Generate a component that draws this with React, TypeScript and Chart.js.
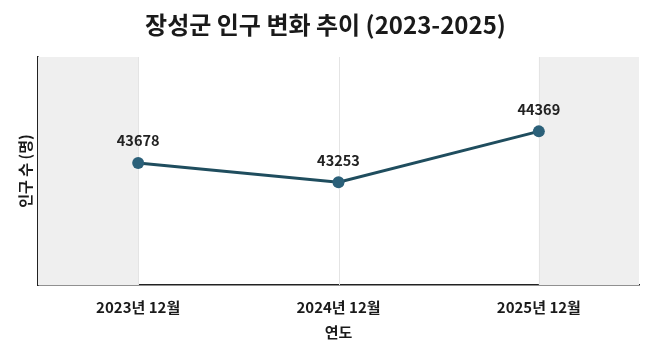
import React, { useEffect, useRef } from "react";
import { Chart, registerables } from "chart.js";

Chart.register(...registerables);

const categories = ["2023년 12월", "2024년 12월", "2025년 12월"];
const population = [43678, 43253, 44369];
const chartTitle = "장성군 인구 변화 추이 (2023-2025)";
const xTitle = "연도";
const yTitle = "인구 수 (명)";

const FONT = "'Noto Sans CJK KR', 'Noto Sans', sans-serif";

const shadePlugin = {
  id: "shade",
  beforeDatasetsDraw(chart: any) {
    const { ctx, chartArea, scales } = chart;
    const x = scales.x;
    const first = x.getPixelForValue(0);
    const last = x.getPixelForValue(categories.length - 1);
    ctx.save();
    ctx.fillStyle = "#efefef";
    ctx.fillRect(chartArea.left, chartArea.top, first - chartArea.left, chartArea.bottom - chartArea.top);
    ctx.fillRect(last, chartArea.top, chartArea.right - last, chartArea.bottom - chartArea.top);
    ctx.strokeStyle = "#e4e4e4";
    ctx.lineWidth = 1;
    for (let i = 0; i < categories.length; i++) {
      const px = Math.round(x.getPixelForValue(i)) + 0.5;
      ctx.beginPath();
      ctx.moveTo(px, chartArea.top);
      ctx.lineTo(px, chartArea.bottom);
      ctx.stroke();
    }
    ctx.restore();
  },
};

const labelPlugin = {
  id: "valueLabels",
  afterDatasetsDraw(chart: any) {
    const { ctx } = chart;
    const meta = chart.getDatasetMeta(0);
    ctx.save();
    ctx.font = `bold 14.5px ${FONT}`;
    ctx.fillStyle = "#222222";
    ctx.textAlign = "center";
    ctx.textBaseline = "middle";
    meta.data.forEach((pt: any, i: number) => {
      ctx.fillText(String(population[i]), pt.x, pt.y - 22);
    });
    ctx.restore();
  },
};

export default function App() {
  const ref = useRef<HTMLCanvasElement | null>(null);
  useEffect(() => {
    document.body.style.margin = "0";
    if (!ref.current) return;
    const chart = new Chart(ref.current, {
      type: "line",
      data: {
        labels: categories,
        datasets: [
          {
            data: population,
            borderColor: "#1f4d5e",
            borderWidth: 3,
            pointRadius: 6,
            pointHoverRadius: 6,
            pointBackgroundColor: "#2b6079",
            pointBorderColor: "#2b6079",
            pointBorderWidth: 0,
            tension: 0,
          },
        ],
      },
      options: {
        responsive: false,
        animation: false,
        layout: { padding: { left: 12, right: 11, top: 0, bottom: 12 } },
        plugins: {
          legend: { display: false },
          tooltip: { enabled: false },
          title: {
            display: true,
            text: chartTitle,
            color: "#1a1a1a",
            font: { family: FONT, size: 24, weight: "bold" },
            padding: { top: 10.6, bottom: 17.6 },
          },
        },
        scales: {
          x: {
            offset: true,
            grid: { display: false, drawTicks: false },
            border: { display: true, color: "#222222", width: 1.5 },
            ticks: {
              color: "#1a1a1a",
              font: { family: FONT, size: 15, weight: "bold" },
              padding: 13.5,
              maxRotation: 0,
            },
            title: {
              display: true,
              text: xTitle,
              color: "#1a1a1a",
              font: { family: FONT, size: 15, weight: "bold" },
              padding: { top: -7, bottom: 4 },
            },
          },
          y: {
            min: 41000,
            max: 46000,
            grid: { display: false, drawTicks: false },
            border: { display: true, color: "#222222", width: 1.5 },
            ticks: { display: false },
            title: {
              display: true,
              text: yTitle,
              color: "#1a1a1a",
              font: { family: FONT, size: 15, weight: "bold" },
              padding: { top: 4, bottom: 4 },
            },
          },
        },
      },
      plugins: [shadePlugin, labelPlugin],
    });
    return () => chart.destroy();
  }, []);
  return (
    <div style={{ width: 650, height: 357, background: "#ffffff" }}>
      <canvas ref={ref} width={650} height={357} style={{ display: "block" }} />
    </div>
  );
}
